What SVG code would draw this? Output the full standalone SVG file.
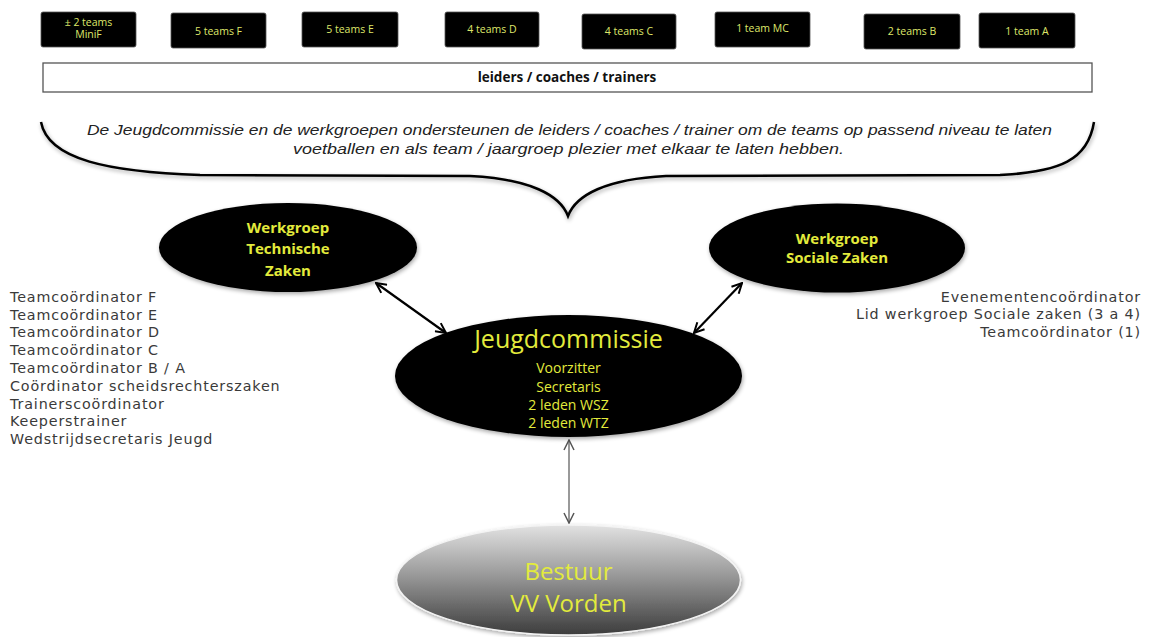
<svg xmlns="http://www.w3.org/2000/svg" width="1150" height="637" viewBox="0 0 1150 637">
<style>
.team rect{fill:#000;stroke:#555;stroke-width:0.8}
.team text{font-family:"Open Sans","Liberation Sans",sans-serif;font-size:10.5px;fill:#dfe76a;text-anchor:middle}
.oval{fill:#000}
.ytxt{font-family:"Open Sans","Liberation Sans",sans-serif;fill:#e3eb3c;text-anchor:middle}
.list{font-family:"DejaVu Sans","Liberation Sans",sans-serif;font-size:14.3px;letter-spacing:0.85px;fill:#3a3a3a}
.conn{stroke:#000;stroke-width:2.2;fill:none}
.conn2{stroke:#777;stroke-width:1.5;fill:none}
</style>
<defs>
<marker id="ah" viewBox="0 0 12 12" refX="11" refY="6" markerWidth="12" markerHeight="12" markerUnits="userSpaceOnUse" orient="auto-start-reverse">
<path d="M1,1 L11,6 L1,11" fill="none" stroke="#000" stroke-width="2"/>
</marker>
<marker id="ahg" viewBox="0 0 12 12" refX="11" refY="6" markerWidth="12" markerHeight="12" markerUnits="userSpaceOnUse" orient="auto-start-reverse">
<path d="M1,1 L11,6 L1,11" fill="none" stroke="#555" stroke-width="1.5"/>
</marker>
<linearGradient id="grey" x1="0" y1="0" x2="0" y2="1">
<stop offset="0" stop-color="#e2e2e2"/>
<stop offset="0.45" stop-color="#9a9a9a"/>
<stop offset="1" stop-color="#3c3c3c"/>
</linearGradient>
<filter id="sh" x="-10%" y="-10%" width="120%" height="130%">
<feGaussianBlur in="SourceAlpha" stdDeviation="2"/>
<feOffset dx="1" dy="2" result="o"/>
<feComponentTransfer><feFuncA type="linear" slope="0.35"/></feComponentTransfer>
<feMerge><feMergeNode/><feMergeNode in="SourceGraphic"/></feMerge>
</filter>
</defs>
<rect width="1150" height="637" fill="#fff"/>

<g id="team-minif" class="team"><rect x="41" y="12" width="95" height="35" rx="2"/><text x="88.5" y="26">± 2 teams</text><text x="88.5" y="38">MiniF</text></g>
<g id="team-f" class="team"><rect x="171" y="13" width="95" height="35" rx="2"/><text x="218.5" y="35">5 teams F</text></g>
<g id="team-e" class="team"><rect x="302" y="12" width="96" height="35" rx="2"/><text x="350" y="33">5 teams E</text></g>
<g id="team-d" class="team"><rect x="445" y="12" width="94" height="35" rx="2"/><text x="492" y="33">4 teams D</text></g>
<g id="team-c" class="team"><rect x="582" y="14" width="94" height="35" rx="2"/><text x="629" y="35">4 teams C</text></g>
<g id="team-mc" class="team"><rect x="715" y="12" width="95" height="35" rx="2"/><text x="762.5" y="32">1 team MC</text></g>
<g id="team-b" class="team"><rect x="864" y="14" width="96" height="35" rx="2"/><text x="912" y="35">2 teams B</text></g>
<g id="team-a" class="team"><rect x="979" y="13" width="96" height="35" rx="2"/><text x="1027" y="35">1 team A</text></g>

<g id="leiders"><rect x="43" y="63" width="1049" height="29" fill="#fff" stroke="#555" stroke-width="1.3"/><text x="567" y="82" font-family="'Open Sans','Liberation Sans',sans-serif" font-size="13.5px" font-weight="bold" fill="#111" text-anchor="middle">leiders / coaches / trainers</text></g>

<g id="brace">
<path d="M41,122 C48,160 110,172 200,175 L470,176 C530,179 560,195 568,216 C576,195 606,179 666,176 L1000,175 C1060,172 1088,160 1094,122" fill="none" stroke="#000" stroke-width="2.5" filter="url(#sh)"/>
<text font-family="'Liberation Sans',Arial,sans-serif" font-size="15px" font-style="italic" fill="#222" text-anchor="middle"><tspan x="569.5" y="135" textLength="965" lengthAdjust="spacingAndGlyphs">De Jeugdcommissie en de werkgroepen ondersteunen de leiders / coaches / trainer om de teams op passend niveau te laten</tspan><tspan x="568.5" y="154" textLength="551" lengthAdjust="spacingAndGlyphs">voetballen en als team / jaargroep plezier met elkaar te laten hebben.</tspan></text>
</g>

<g id="connectors">
<line class="conn" x1="376" y1="283" x2="446" y2="333" marker-start="url(#ah)" marker-end="url(#ah)"/>
<line class="conn" x1="742" y1="283" x2="694" y2="333" marker-start="url(#ah)" marker-end="url(#ah)"/>
<line class="conn2" x1="569" y1="440" x2="569" y2="523" marker-start="url(#ahg)" marker-end="url(#ahg)"/>
</g>

<g id="wg-technische">
<ellipse class="oval" cx="288" cy="247.5" rx="129" ry="44.5" filter="url(#sh)"/>
<text class="ytxt" font-size="15px" font-weight="bold"><tspan x="288" y="233">Werkgroep</tspan><tspan x="288" y="254">Technische</tspan><tspan x="288" y="276">Zaken</tspan></text>
</g>

<g id="wg-sociale">
<ellipse class="oval" cx="837" cy="248" rx="128" ry="44.5" filter="url(#sh)"/>
<text class="ytxt" font-size="15px" font-weight="bold"><tspan x="837" y="244">Werkgroep</tspan><tspan x="837" y="263">Sociale Zaken</tspan></text>
</g>

<g id="jeugdcommissie">
<ellipse class="oval" cx="568.5" cy="376" rx="173.5" ry="61" filter="url(#sh)"/>
<text class="ytxt" x="568.5" y="348" font-size="25px">Jeugdcommissie</text>
<text class="ytxt" font-size="14px"><tspan x="568.5" y="373">Voorzitter</tspan><tspan x="568.5" y="392">Secretaris</tspan><tspan x="568.5" y="410">2 leden WSZ</tspan><tspan x="568.5" y="428">2 leden WTZ</tspan></text>
</g>

<g id="bestuur">
<ellipse cx="568.5" cy="580" rx="172" ry="55" fill="url(#grey)" stroke="#f4f4f4" stroke-width="1.5" filter="url(#sh)"/>
<text class="ytxt" font-size="24px"><tspan x="568.5" y="580">Bestuur</tspan><tspan x="568.5" y="612">VV Vorden</tspan></text>
</g>

<g id="list-technisch" class="list">
<text x="10" y="302">Teamcoördinator F</text>
<text x="10" y="320">Teamcoördinator E</text>
<text x="10" y="337">Teamcoördinator D</text>
<text x="10" y="355">Teamcoördinator C</text>
<text x="10" y="373">Teamcoördinator B / A</text>
<text x="10" y="391">Coördinator scheidsrechterszaken</text>
<text x="10" y="409">Trainerscoördinator</text>
<text x="10" y="426">Keeperstrainer</text>
<text x="10" y="444">Wedstrijdsecretaris Jeugd</text>
</g>

<g id="list-sociaal" class="list" text-anchor="end">
<text x="1141" y="302">Evenementencoördinator</text>
<text x="1141" y="319">Lid werkgroep Sociale zaken (3 a 4)</text>
<text x="1141" y="337">Teamcoördinator (1)</text>
</g>
</svg>
